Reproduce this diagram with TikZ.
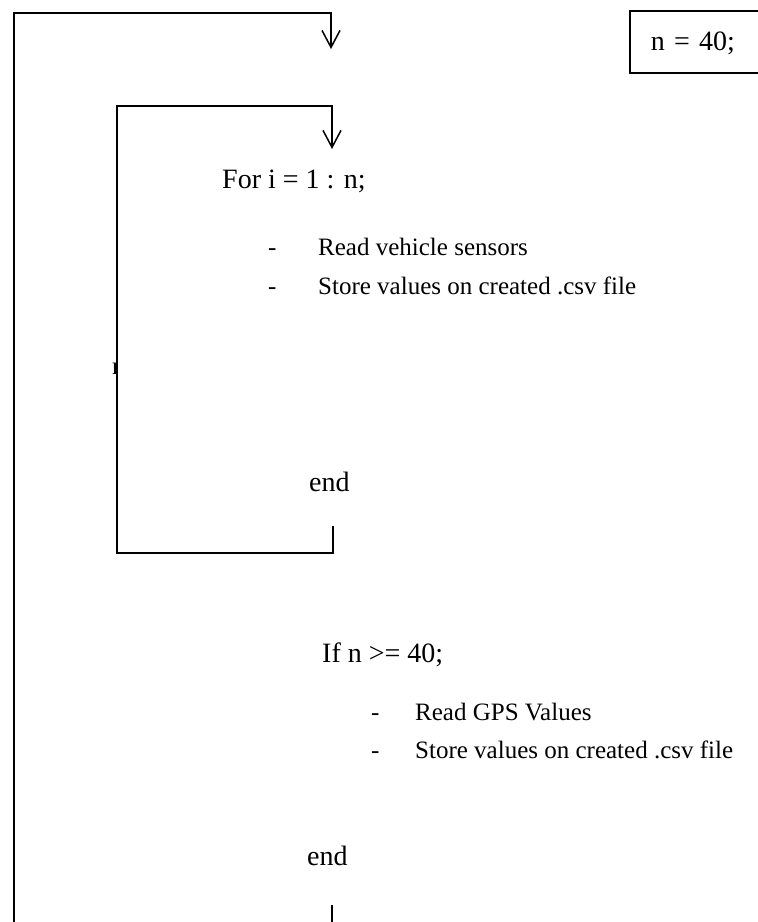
\documentclass[tikz,border=0pt]{standalone}
\usepackage{fontspec}
\setmainfont{Liberation Serif}
\usetikzlibrary{arrows.meta}
\begin{document}
\begin{tikzpicture}[x=1pt,y=-1pt,
  wire/.style={line width=1.5pt},
  flow/.style={wire,-{Straight Barb[length=17pt,width=18pt,line width=1.5pt]}},
  head/.style={anchor=base west,inner sep=0pt,font=\fontsize{28}{32}\selectfont},
  item/.style={anchor=base west,inner sep=0pt,font=\fontsize{25}{30}\selectfont},
  varbox/.style={draw,line width=1.5pt,anchor=north west,align=left,
    text width=110pt,inner xsep=21pt,minimum height=62pt,
    text height=19pt,text depth=1pt,font=\fontsize{28}{32}\selectfont}]
\useasboundingbox (0,0) rectangle (758,922);
\clip (0,0) rectangle (758,922);

% loop size
\node (nbox) [varbox] at (629,10) {n = 40;};

% inner for-loop body
\node (forhead) [head] at (222,188) {For i = 1 : n;};
\node (d1) [item] at (268,255) {-};
\node (read1) [item] at (318,255) {Read vehicle sensors};
\node (d2) [item] at (268,294) {-};
\node (store1) [item] at (318,294) {Store values on created .csv file};
\node (end1) [head] at (309,491) {end};

% stray glyph partly hidden behind the loop line
\begin{scope}
  \clip (100,350) rectangle (117,380);
  \node (stray) [item] at (112,374) {r};
\end{scope}

% if block
\node (ifhead) [head] at (322,662) {If n >= 40;};
\node (d3) [item] at (371,720) {-};
\node (read2) [item] at (415,720) {Read GPS Values};
\node (d4) [item] at (371,758) {-};
\node (store2) [item] at (415,758) {Store values on created .csv file};
\node (end2) [head] at (307,865) {end};

% outer loop
\coordinate (oBot) at (14,930);
\coordinate (oC1) at (14,13);
\coordinate (oC2) at (331,13);
\coordinate (oTip) at (331,49);
\draw[flow] (oBot) -- (oC1) -- (oC2) -- (oTip);

% inner loop
\coordinate (iEnd) at (333,526);
\coordinate (iC1) at (333,553);
\coordinate (iC2) at (117,553);
\coordinate (iC3) at (117,106);
\coordinate (iC4) at (332,106);
\coordinate (iTip) at (332,149);
\draw[flow] (iEnd) -- (iC1) -- (iC2) -- (iC3) -- (iC4) -- (iTip);

% exit stub below the if block
\coordinate (bTop) at (332,905);
\coordinate (bBot) at (332,930);
\draw[wire] (bTop) -- (bBot);
\end{tikzpicture}
\end{document}
